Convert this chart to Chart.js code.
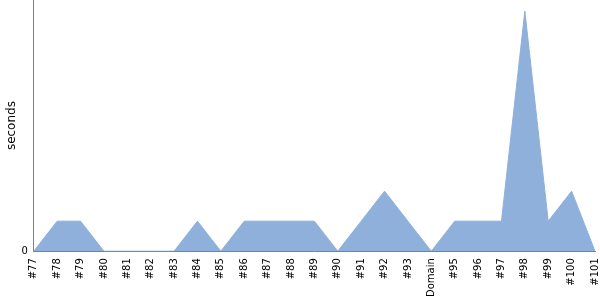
<!DOCTYPE html>
<html>
<head>
<meta charset="utf-8">
<script src="https://cdn.jsdelivr.net/npm/chart.js@4/dist/chart.umd.min.js"></script>
<style>
  html, body { margin: 0; padding: 0; background: #fff; }
  #wrap { width: 600px; height: 300px; }
</style>
</head>
<body>
<div id="wrap"><canvas id="myChart"></canvas></div>
<script>
var categories = ['#77','#78','#79','#80','#81','#82','#83','#84','#85','#86','#87','#88','#89','#90','#91','#92','#93','Domain','#95','#96','#97','#98','#99','#100','#101'];
var seconds = [0, 1, 1, 0, 0, 0, 0, 1, 0, 1, 1, 1, 1, 0, 1, 2, 1, 0, 1, 1, 1, 8, 1, 2, 0];
var yTicks = [0];

function noEdgePadding(scale) {
  scale.paddingTop = 0;
  scale.paddingRight = 0;
}

document.addEventListener('DOMContentLoaded', function() {
  var ctx = document.getElementById('myChart').getContext('2d');
  new Chart(ctx, {
    type: 'line',
    data: {
      labels: categories,
      datasets: [{
        label: 'seconds',
        data: seconds,
        fill: 'origin',
        backgroundColor: 'rgb(143, 176, 218)',
        borderColor: 'rgb(143, 176, 218)',
        borderWidth: 1,
        pointRadius: 0,
        tension: 0
      }]
    },
    options: {
      responsive: true,
      maintainAspectRatio: false,
      animation: false,
      layout: { padding: { top: 0, right: 5, left: 5, bottom: 0 } },
      plugins: { legend: { display: false }, tooltip: { enabled: false } },
      scales: {
        x: {
          offset: false,
          afterFit: noEdgePadding,
          grid: { display: false, drawTicks: true, tickLength: 4 },
          border: { color: '#808080' },
          ticks: {
            minRotation: 90, maxRotation: 90, autoSkip: false,
            color: '#000', font: { family: 'DejaVu Sans', size: 10 }, padding: 3
          }
        },
        y: {
          min: 0, max: 8.37,
          afterFit: noEdgePadding,
          grid: { display: false, tickLength: 4 },
          border: { color: '#808080' },
          afterBuildTicks: function(axis) {
            axis.ticks = yTicks.map(function(v) { return { value: v }; });
          },
          ticks: { color: '#000', font: { family: 'DejaVu Sans', size: 10 }, padding: 2 },
          title: {
            display: true, text: 'seconds', color: '#000',
            font: { family: 'DejaVu Sans', size: 12 }, padding: 0
          }
        }
      }
    }
  });
});
</script>
</body>
</html>
